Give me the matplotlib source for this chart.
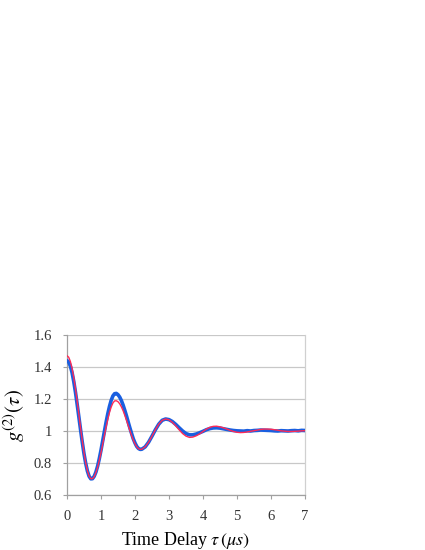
import matplotlib
matplotlib.use("Agg")
import matplotlib.pyplot as plt

plt.rcParams["mathtext.fontset"] = "stix"
plt.rcParams["font.family"] = ["Liberation Serif", "DejaVu Serif"]

# time axis (microseconds)
t_us = [0.0, 0.05, 0.1, 0.15, 0.2, 0.25, 0.3, 0.35, 0.4, 0.45,
        0.5, 0.55, 0.6, 0.65, 0.7, 0.75, 0.8, 0.85, 0.9, 0.95,
        1.0, 1.05, 1.1, 1.15, 1.2, 1.25, 1.3, 1.35, 1.4, 1.45,
        1.5, 1.55, 1.6, 1.65, 1.7, 1.75, 1.8, 1.85, 1.9, 1.95,
        2.0, 2.05, 2.1, 2.15, 2.2, 2.3, 2.4, 2.5, 2.6, 2.7, 2.8, 2.9,
        3.0, 3.1, 3.2, 3.3, 3.4, 3.5, 3.6, 3.7, 3.8, 3.9,
        4.0, 4.1, 4.2, 4.3, 4.4, 4.5, 4.6, 4.7, 4.8, 4.9,
        5.0, 5.1, 5.2, 5.3, 5.4, 5.5, 5.6, 5.7, 5.8, 5.9,
        6.0, 6.1, 6.2, 6.3, 6.4, 6.5, 6.6, 6.7, 6.8, 6.9, 7.0]

# measured g2 (blue)
g2_measured = [1.440, 1.431, 1.405, 1.364, 1.308, 1.241, 1.165, 1.086, 1.006, 0.929,
               0.858, 0.798, 0.750, 0.717, 0.701, 0.702, 0.717, 0.743, 0.780, 0.827,
               0.880, 0.938, 0.997, 1.055, 1.108, 1.154, 1.192, 1.219, 1.233, 1.235,
               1.227, 1.212, 1.190, 1.162, 1.129, 1.094, 1.056, 1.019, 0.984, 0.951,
               0.925, 0.904, 0.891, 0.885, 0.886, 0.901, 0.930, 0.968, 1.008, 1.043, 1.067, 1.075,
               1.071, 1.059, 1.041, 1.020, 1.000, 0.984, 0.976, 0.976, 0.981, 0.989,
               0.998, 1.008, 1.015, 1.019, 1.020, 1.018, 1.014, 1.010, 1.006, 1.003,
               1.001, 1.000, 0.999, 1.002, 1.000, 1.003, 1.004, 1.006, 1.005, 1.004,
               1.003, 1.001, 1.000, 1.002, 1.001, 1.000, 1.002, 1.003, 1.001, 1.004, 1.003]

# theory / fit g2 (red)
g2_fit = [1.470, 1.461, 1.434, 1.391, 1.332, 1.263, 1.185, 1.102, 1.018, 0.938,
          0.864, 0.801, 0.752, 0.718, 0.702, 0.702, 0.715, 0.740, 0.773, 0.816,
          0.865, 0.918, 0.972, 1.025, 1.074, 1.116, 1.150, 1.175, 1.188, 1.189,
          1.183, 1.170, 1.151, 1.127, 1.098, 1.067, 1.034, 1.002, 0.971, 0.943,
          0.920, 0.902, 0.890, 0.885, 0.886, 0.901, 0.930, 0.968, 1.008, 1.043, 1.067, 1.075,
          1.070, 1.054, 1.032, 1.007, 0.984, 0.968, 0.960, 0.962, 0.970, 0.982,
          0.997, 1.012, 1.023, 1.029, 1.030, 1.026, 1.020, 1.012, 1.004, 0.997,
          0.992, 0.990, 0.991, 0.994, 0.998, 1.002, 1.006, 1.010, 1.012, 1.012,
          1.011, 1.008, 1.005, 1.001, 0.999, 0.997, 0.997, 0.998, 0.999, 1.001, 1.002]

x_ticks = [0, 1, 2, 3, 4, 5, 6, 7]
y_ticks = [0.6, 0.8, 1.0, 1.2, 1.4, 1.6]
y_tick_labels = ["0.6", "0.8", "1", "1.2", "1.4", "1.6"]

fig = plt.figure(figsize=(4.25, 5.5), dpi=100)
ax = fig.add_axes([67/425, 1 - 495/550, 238/425, 160/550])

ax.plot(t_us, g2_measured, color="#1a5fe0", lw=2.6, solid_capstyle="round", zorder=3)
ax.plot(t_us, g2_fit, color="#ff2a55", lw=1.0, zorder=4)

ax.set_xlim(0, 7)
ax.set_ylim(0.6, 1.6)
ax.set_xticks(x_ticks)
ax.set_yticks(y_ticks)
ax.set_yticklabels(y_tick_labels)
ax.grid(axis="y", color="#c8c8c8", lw=0.9)
ax.set_axisbelow(True)

ax.spines["top"].set_visible(False)
for side in ["left", "bottom", "right"]:
    ax.spines[side].set_color("#a0a0a0")
    ax.spines[side].set_linewidth(0.9)
ax.spines["right"].set_color("#d0d0d0")

ax.tick_params(axis="x", direction="out", length=3, width=0.8, color="#a0a0a0",
               labelsize=10.5, labelcolor="#333333", pad=8)
ax.tick_params(axis="y", direction="out", length=3, width=0.8, color="#a0a0a0",
               labelsize=10.5, labelcolor="#333333", pad=8)

ax.set_xlabel(r"Time Delay $\tau\,(\mu s)$", fontsize=13, labelpad=5)
ax.set_ylabel(r"$g^{(2)}(\tau)$", fontsize=15)
ax.yaxis.set_label_coords(-0.17, 0.5)

fig.savefig("out.png", dpi=100)
